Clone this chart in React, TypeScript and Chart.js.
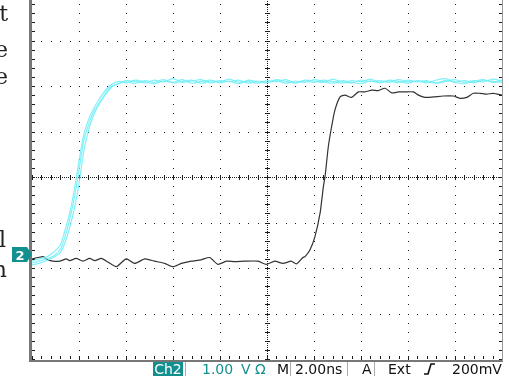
import React, { useEffect, useRef } from "react";
import { Chart, registerables } from "chart.js";

Chart.register(...registerables);

// Time axis in ns (2.00 ns/div, 10 divisions), voltage in V (1.00 V/div, 8 divisions)
const timeRange = [-10, 10];
const voltRange = [-4, 4];

// Black trace (single acquisition)
const blackTimes = [
  -10.0, -9.74, -9.53, -9.32, -9.11, -8.82, -8.54, -8.4, -8.12, -7.83,
  -7.55, -7.33, -7.05, -6.77, -6.41, -5.99, -5.63, -5.2, -4.78, -4.35,
  -4.0, -3.65, -3.22, -2.8, -2.44, -2.09, -1.73, -1.37, -0.95, -0.38,
  -0.03, 0.33, 0.68, 1.03, 1.25, 1.53, 1.62, 1.83, 2.04, 2.26,
  2.4, 2.47, 2.61, 2.75, 2.89, 3.11, 3.32, 3.6, 3.89, 4.17,
  4.46, 4.74, 5.02, 5.31, 5.6, 5.87, 6.23, 6.44, 6.72, 7.08,
  7.5, 7.93, 8.21, 8.5, 8.78, 9.06, 9.35, 9.63, 10.0,
];
const blackVolts = [
  -1.8, -1.77, -1.75, -1.82, -1.85, -1.85, -1.8, -1.84, -1.79, -1.85,
  -1.79, -1.84, -1.79, -1.87, -1.97, -1.8, -1.9, -1.8, -1.85, -1.9,
  -1.97, -1.9, -1.85, -1.82, -1.77, -1.92, -1.85, -1.86, -1.85, -1.85,
  -1.92, -1.85, -1.9, -1.85, -1.91, -1.77, -1.75, -1.6, -1.31, -0.79,
  -0.21, 0.01, 0.67, 1.11, 1.47, 1.76, 1.8, 1.75, 1.87, 1.87,
  1.91, 1.9, 1.95, 1.85, 1.87, 1.87, 1.87, 1.8, 1.75, 1.76,
  1.78, 1.78, 1.73, 1.75, 1.84, 1.84, 1.82, 1.84, 1.8,
];

// Cyan persistence traces (three overlapping acquisitions)
const cyanTimes = [
  -10.0, -9.7, -9.4, -9.1, -8.8, -8.6, -8.4, -8.2, -8.0, -7.8,
  -7.6, -7.4, -7.2, -7.0, -6.8, -6.6, -6.3, -6.0,
  -5.6, -5.2, -4.8, -4.4, -4.0, -3.6, -3.2, -2.8, -2.4, -2.0,
  -1.6, -1.2, -0.8, -0.4, 0.0, 0.4, 0.8, 1.2, 1.6, 2.0,
  2.4, 2.8, 3.2, 3.6, 4.0, 4.4, 4.8, 5.2, 5.6, 6.0,
  6.4, 6.8, 7.2, 7.6, 8.0, 8.4, 8.8, 9.2, 9.6, 10.0,
];
const cyanA = [
  -1.89, -1.85, -1.8, -1.74, -1.6, -1.32, -0.95, -0.46, 0.15, 0.79,
  1.14, 1.41, 1.58, 1.74, 1.9, 2.0, 2.06, 2.09,
  2.06, 2.12, 2.08, 2.14, 2.07, 2.1, 2.13, 2.06, 2.11, 2.09,
  2.15, 2.08, 2.1, 2.06, 2.12, 2.09, 2.14, 2.07, 2.11, 2.08,
  2.13, 2.1, 2.06, 2.12, 2.09, 2.15, 2.08, 2.11, 2.07, 2.13,
  2.09, 2.12, 2.06, 2.1, 2.14, 2.08, 2.12, 2.09, 2.15, 2.11,
];
const cyanB = [
  -1.93, -1.9, -1.84, -1.77, -1.66, -1.45, -1.12, -0.7, -0.15, 0.55,
  1.02, 1.33, 1.55, 1.72, 1.86, 1.98, 2.05, 2.12,
  2.1, 2.07, 2.13, 2.09, 2.16, 2.08, 2.11, 2.14, 2.07, 2.12,
  2.09, 2.13, 2.06, 2.11, 2.08, 2.14, 2.1, 2.07, 2.13, 2.11,
  2.08, 2.15, 2.09, 2.07, 2.13, 2.1, 2.12, 2.08, 2.14, 2.09,
  2.11, 2.07, 2.13, 2.16, 2.09, 2.12, 2.07, 2.13, 2.1, 2.08,
];
const cyanC = [
  -1.85, -1.8, -1.76, -1.66, -1.5, -1.18, -0.8, -0.28, 0.35, 0.92,
  1.25, 1.48, 1.66, 1.82, 1.95, 2.04, 2.1, 2.07,
  2.13, 2.09, 2.05, 2.11, 2.08, 2.14, 2.06, 2.1, 2.13, 2.07,
  2.11, 2.05, 2.13, 2.09, 2.07, 2.12, 2.06, 2.11, 2.08, 2.14,
  2.1, 2.06, 2.12, 2.08, 2.05, 2.11, 2.07, 2.13, 2.1, 2.06,
  2.12, 2.09, 2.07, 2.12, 2.08, 2.05, 2.1, 2.14, 2.08, 2.13,
];

const TEAL = "#12908f";
const CYAN = "rgba(115,238,247,0.9)";

const zip = (xs: number[], ys: number[]) => xs.map((x, i) => ({ x, y: ys[i] }));

const graticule = {
  id: "graticule",
  beforeDatasetsDraw(chart: any) {
    const { ctx, chartArea: a, scales } = chart;
    const xs = scales.x;
    const ys = scales.y;
    const px = (v: number) => Math.round(xs.getPixelForValue(v));
    const py = (v: number) => Math.round(ys.getPixelForValue(v));
    ctx.save();
    ctx.fillStyle = "#1c1c1c";
    for (let k = -8; k <= 8; k += 2) {
      if (k === 0) continue;
      const X = px(k);
      for (let j = -20; j <= 20; j++) ctx.fillRect(X, py(j * 0.2), 1, 1);
    }
    for (let k = -3; k <= 3; k++) {
      if (k === 0) continue;
      const Y = py(k);
      for (let j = -25; j <= 25; j++) ctx.fillRect(px(j * 0.4), Y, 1, 1);
    }
    const cx = px(0);
    const cy = py(0);
    for (let X = Math.round(a.left); X <= a.right; X += 2) ctx.fillRect(X, cy, 1, 1);
    for (let Y = Math.round(a.top); Y <= a.bottom; Y += 2) ctx.fillRect(cx, Y, 1, 1);
    for (let j = -25; j <= 25; j++) ctx.fillRect(px(j * 0.4), cy - 2, 1, 5);
    for (let j = -20; j <= 20; j++) ctx.fillRect(cx - 2, py(j * 0.2), 5, 1);
    for (let j = -20; j <= 20; j++) {
      const Y = py(j * 0.2);
      ctx.fillRect(Math.round(a.left), Y, 3, 1);
      ctx.fillRect(Math.round(a.right) - 3, Y, 3, 1);
    }
    for (let j = -25; j <= 25; j++) ctx.fillRect(px(j * 0.4), Math.round(a.bottom) - 3, 1, 3);
    ctx.fillStyle = "#777";
    ctx.fillRect(Math.round(a.left) - 3, 0, 3, Math.round(a.bottom) + 3);
    ctx.fillRect(Math.round(a.left) - 3, Math.round(a.bottom) + 1, Math.round(a.right - a.left) + 4, 2);
    ctx.fillStyle = "#999";
    ctx.fillRect(Math.round(a.right), 0, 1, Math.round(a.bottom) + 2);
    ctx.restore();
  },
};

export default function App() {
  const ref = useRef<HTMLCanvasElement>(null);

  useEffect(() => {
    if (!ref.current) return;
    const chart = new Chart(ref.current, {
      type: "line",
      data: {
        datasets: [
          { data: zip(cyanTimes, cyanA), borderColor: CYAN, borderWidth: 1.2, pointRadius: 0, tension: 0.25, order: 0 },
          { data: zip(cyanTimes, cyanB), borderColor: CYAN, borderWidth: 1.2, pointRadius: 0, tension: 0.25, order: 0 },
          { data: zip(cyanTimes, cyanC), borderColor: CYAN, borderWidth: 1.2, pointRadius: 0, tension: 0.25, order: 0 },
          { data: zip(blackTimes, blackVolts), borderColor: "#333", borderWidth: 1.2, pointRadius: 0, tension: 0.2, order: 1 },
        ],
      },
      options: {
        animation: false,
        responsive: false,
        parsing: false as any,
        layout: { padding: { left: 32, right: 7, top: 0, bottom: 4 } },
        scales: {
          x: { type: "linear", min: timeRange[0], max: timeRange[1], display: false },
          y: { type: "linear", min: voltRange[0], max: voltRange[1], display: false },
        },
        plugins: { legend: { display: false }, tooltip: { enabled: false } },
      },
      plugins: [graticule],
    });
    return () => chart.destroy();
  }, []);

  return (
    <div style={{ position: "fixed", left: 0, top: 0, width: 509, height: 376, background: "#fff", overflow: "hidden" }}>
      <canvas ref={ref} width={509} height={368} style={{ position: "absolute", left: 0, top: -5, width: 509, height: 368 }} />
      <svg width={509} height={376} style={{ position: "absolute", left: 0, top: 0 }}>
        <g fontFamily="'DejaVu Serif', 'Liberation Serif', serif" fontSize={22} fill="#222" textAnchor="end">
          <text x={8} y={21}>t</text>
          <text x={8} y={57}>e</text>
          <text x={8} y={84}>e</text>
          <text x={6} y={247}>l</text>
          <text x={7} y={277}>n</text>
        </g>
        <polygon points="12,247 27,247 32,254.5 27,262 12,262" fill={TEAL} />
        <text x={20} y={259.5} textAnchor="middle" fontFamily="'DejaVu Sans', sans-serif" fontWeight="bold" fontSize={13} fill="#fff">2</text>
        <g fontFamily="'DejaVu Sans', sans-serif" fontSize={14}>
          <rect x={153} y={362} width={30} height={14} fill={TEAL} />
          <text x={168} y={374} textAnchor="middle" fill="#fff">Ch2</text>
          <text x={202} y={374} fill={TEAL}>1.00</text>
          <text x={241} y={374} fill={TEAL}>V</text>
          <text x={255} y={374} fill={TEAL}>Ω</text>
          <text x={277} y={374} fill="#111">M</text>
          <text x={295} y={374} fill="#111">2.00ns</text>
          <text x={362} y={374} fill="#111">A</text>
          <text x={388} y={374} fill="#111">Ext</text>
          <text x={452} y={374} fill="#111">200mV</text>
        </g>
        <g stroke="#aaa" strokeWidth={1}>
          <line x1={185.5} y1={362} x2={185.5} y2={376} />
          <line x1={290.5} y1={362} x2={290.5} y2={376} />
          <line x1={347.5} y1={362} x2={347.5} y2={376} />
          <line x1={374.5} y1={362} x2={374.5} y2={376} />
        </g>
        <polyline points="424,374 428,374 431,364 435,364" fill="none" stroke="#111" strokeWidth={1.6} />
      </svg>
    </div>
  );
}
